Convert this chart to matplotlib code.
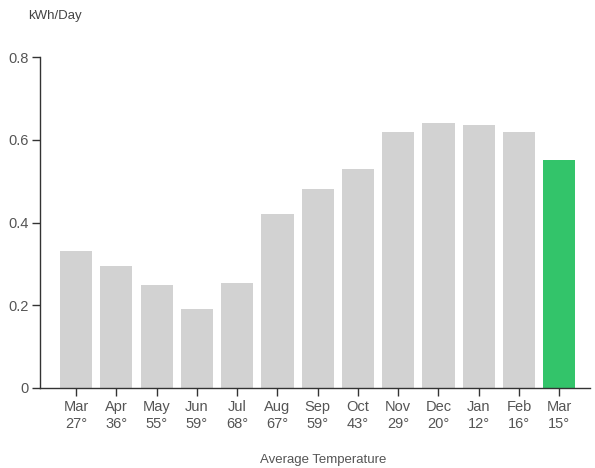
import matplotlib
matplotlib.use("Agg")
import matplotlib.pyplot as plt

months = ["Mar", "Apr", "May", "Jun", "Jul", "Aug", "Sep", "Oct", "Nov", "Dec", "Jan", "Feb", "Mar"]
temps = [27, 36, 55, 59, 68, 67, 59, 43, 29, 20, 12, 16, 15]
kwh = [0.33, 0.295, 0.25, 0.19, 0.255, 0.42, 0.48, 0.53, 0.62, 0.64, 0.635, 0.62, 0.55]
yticks = [0, 0.2, 0.4, 0.6, 0.8]
ytick_labels = ["0", "0.2", "0.4", "0.6", "0.8"]

gray = "#d2d2d2"
green = "#33c46a"
colors = [gray] * (len(kwh) - 1) + [green]

plt.rcParams['font.family'] = ['Liberation Sans', 'DejaVu Sans']

fig = plt.figure(figsize=(5.95, 4.68), dpi=100)
ax = fig.add_axes([0.067, 0.171, 0.925, 0.707])

x = list(range(len(kwh)))
ax.bar(x, kwh, width=0.8, color=colors, edgecolor="none")

ax.set_xlim(-0.9, 12.77)
ax.set_ylim(0, 0.8)
ax.set_yticks(yticks)
ax.set_yticklabels(ytick_labels)
ax.set_xticks(x)
ax.set_xticklabels([f"{m}\n{t}°" for m, t in zip(months, temps)], linespacing=1.25)

for s in ["top", "right"]:
    ax.spines[s].set_visible(False)
for s in ["left", "bottom"]:
    ax.spines[s].set_color("#333333")
    ax.spines[s].set_linewidth(1.0)

ax.tick_params(axis="both", colors="#333333", labelcolor="#555555", labelsize=10.5, length=6, width=1)
ax.tick_params(axis="x", pad=3)
ax.tick_params(axis="y", pad=2)

fig.text(0.047, 0.965, "kWh/Day", fontsize=9.5, color="#444444", ha="left", va="center")
fig.text(0.543, 0.017, "Average Temperature", fontsize=9.5, color="#555555", ha="center", va="center")

fig.savefig("out.png", dpi=100)
